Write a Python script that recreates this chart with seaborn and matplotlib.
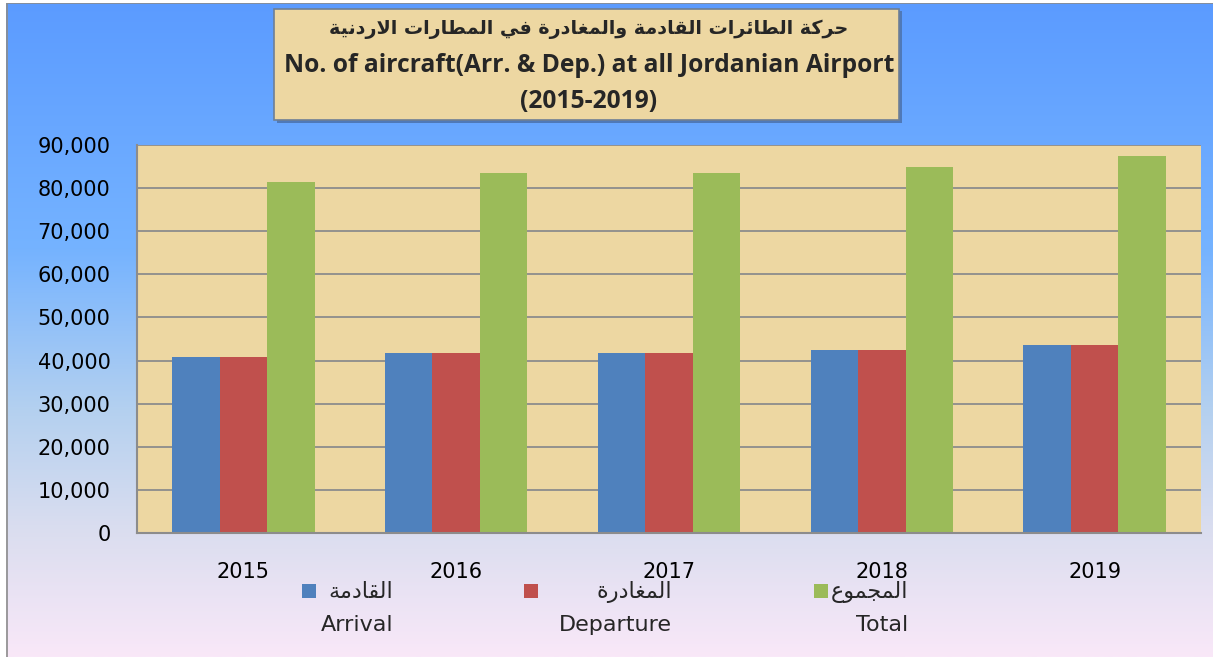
import numpy as np
import pandas as pd
import matplotlib
matplotlib.use('Agg')
import matplotlib.pyplot as plt
import seaborn as sns
from matplotlib.patches import Rectangle
from matplotlib.ticker import FuncFormatter
from matplotlib.colors import LinearSegmentedColormap

# 데이터
years = ['2015', '2016', '2017', '2018', '2019']
arrival = [40750, 41700, 41700, 42400, 43700]
departure = [40750, 41700, 41700, 42400, 43700]
total = [81500, 83400, 83400, 84800, 87400]
series_en = ['Arrival', 'Departure', 'Total']
series_ar = ['القادمة', 'المغادرة', 'المجموع']
title_ar = 'حركة الطائرات القادمة والمغادرة في المطارات الاردنية'
title_en = 'No. of aircraft(Arr. & Dep.) at all Jordanian Airport'
title_years = '(2015-2019)'
colors = ['#4F81BD', '#C0504D', '#9BBB59']
papyrus = '#EDD7A2'

# arabic shaping (matplotlib has no text shaping): iso, final, initial, medial
FORMS = {
    'ا': (0xFE8D, 0xFE8E), 'ة': (0xFE93, 0xFE94), 'د': (0xFEA9, 0xFEAA),
    'ر': (0xFEAD, 0xFEAE), 'و': (0xFEED, 0xFEEE),
    'ت': (0xFE95, 0xFE96, 0xFE97, 0xFE98), 'ئ': (0xFE89, 0xFE8A, 0xFE8B, 0xFE8C),
    'ج': (0xFE9D, 0xFE9E, 0xFE9F, 0xFEA0), 'ح': (0xFEA1, 0xFEA2, 0xFEA3, 0xFEA4),
    'ط': (0xFEC1, 0xFEC2, 0xFEC3, 0xFEC4), 'ع': (0xFEC9, 0xFECA, 0xFECB, 0xFECC),
    'غ': (0xFECD, 0xFECE, 0xFECF, 0xFED0), 'ف': (0xFED1, 0xFED2, 0xFED3, 0xFED4),
    'ق': (0xFED5, 0xFED6, 0xFED7, 0xFED8), 'ك': (0xFED9, 0xFEDA, 0xFEDB, 0xFEDC),
    'ل': (0xFEDD, 0xFEDE, 0xFEDF, 0xFEE0), 'م': (0xFEE1, 0xFEE2, 0xFEE3, 0xFEE4),
    'ن': (0xFEE5, 0xFEE6, 0xFEE7, 0xFEE8), 'ي': (0xFEF1, 0xFEF2, 0xFEF3, 0xFEF4),
}


def shape(text):
    out = []
    chars = list(text)
    i = 0
    while i < len(chars):
        c = chars[i]
        if c not in FORMS:
            out.append(c)
            i += 1
            continue
        prev = chars[i - 1] if i > 0 else ''
        joins_prev = prev in FORMS and len(FORMS[prev]) == 4
        if c == 'ل' and i + 1 < len(chars) and chars[i + 1] == 'ا':
            out.append(chr(0xFEFC if joins_prev else 0xFEFB))
            i += 2
            continue
        nxt = chars[i + 1] if i + 1 < len(chars) else ''
        f = FORMS[c]
        joins_next = len(f) == 4 and nxt in FORMS
        if joins_prev and joins_next:
            out.append(chr(f[3]))
        elif joins_next:
            out.append(chr(f[2]))
        elif joins_prev:
            out.append(chr(f[1]))
        else:
            out.append(chr(f[0]))
        i += 1
    return ''.join(out[::-1])


sns.set_theme(style='white')
plt.rcParams['font.family'] = ['DejaVu Sans']

df = pd.DataFrame({
    'year': years * 3,
    'series': [s for s in series_en for _ in years],
    'value': arrival + departure + total,
})

fig = plt.figure(figsize=(12.13, 6.57), dpi=100)

# 배경 그라데이션
bg = fig.add_axes([0, 0, 1, 1], zorder=-10)
cmap = LinearSegmentedColormap.from_list('bg', [
    (0.0, '#5B9BFF'), (0.38, '#75B3FF'), (0.62, '#B3D0F0'),
    (0.80, '#D9DDEF'), (1.0, '#F9E8F8')])
bg.imshow(np.linspace(0, 1, 256).reshape(-1, 1), aspect='auto', cmap=cmap,
          extent=[0, 1, 0, 1])
bg.set_xlim(0, 1)
bg.set_ylim(0, 1)
bg.axis('off')
bg.add_patch(Rectangle((7 / 1213, -0.01), 1.1, 1 - 3 / 657 + 0.01,
                       fill=False, edgecolor='#8C8C8C', lw=1.2))
# 흰 여백
bg.add_patch(Rectangle((0, 0), 6 / 1213, 1, color='white', lw=0))
bg.add_patch(Rectangle((0, 1 - 2.5 / 657), 1, 1, color='white', lw=0))

ax = fig.add_axes([137 / 1213, 1 - 533 / 657, (1201 - 137) / 1213, (533 - 145) / 657])
ax.set_facecolor(papyrus)
sns.barplot(data=df, x='year', y='value', hue='series', hue_order=series_en,
            palette=colors, width=0.67, saturation=1, edgecolor='none',
            legend=False, ax=ax)

ax.set_ylim(0, 90000)
ax.set_yticks(range(0, 90001, 10000))
ax.yaxis.set_major_formatter(FuncFormatter(lambda v, p: f'{v:,.0f}'))
ax.grid(axis='y', color='#8C8C8C', lw=1.3)
ax.set_axisbelow(True)
ax.set_xlabel('')
ax.set_ylabel('')
for s in ['top', 'right']:
    ax.spines[s].set_visible(False)
for s in ['left', 'bottom']:
    ax.spines[s].set_color('#8C8C8C')
    ax.spines[s].set_linewidth(1.5)
ax.tick_params(axis='y', length=0, pad=19, labelsize=15, labelcolor='black')
ax.tick_params(axis='x', length=0, pad=21, labelsize=15, labelcolor='black')

# 제목 상자
fig.patches.append(Rectangle((277 / 1213, 1 - 123 / 657), 625 / 1213, 112 / 657,
                             transform=fig.transFigure, facecolor='#4F79B8',
                             edgecolor='none', zorder=1))
fig.patches.append(Rectangle((274 / 1213, 1 - 120 / 657), 625 / 1213, 111 / 657,
                             transform=fig.transFigure, facecolor=papyrus,
                             edgecolor='#6E7F95', lw=1.2, zorder=2))
cx = 589 / 1213
fig.text(cx, 1 - 29 / 657, shape(title_ar), ha='center', va='center',
         fontsize=13.8, fontweight='bold', family=['DejaVu Sans'], zorder=3)
fig.text(cx, 1 - 66 / 657, title_en, ha='center', va='center',
         fontsize=17.7, fontweight='bold', family=['Open Sans', 'DejaVu Sans'], zorder=3)
fig.text(cx, 1 - 101 / 657, title_years, ha='center', va='center',
         fontsize=17.7, fontweight='bold', family=['Open Sans', 'DejaVu Sans'], zorder=3)

# 범례
sq_x = [302, 524, 814]
txt_right = [393, 672, 908]
for c, xs, xr, ar, en in zip(colors, sq_x, txt_right, series_ar, series_en):
    fig.patches.append(Rectangle((xs / 1213, 1 - 598 / 657), 14 / 1213, 14 / 657,
                                 transform=fig.transFigure, facecolor=c,
                                 edgecolor='none'))
    fig.text(xr / 1213, 1 - 592 / 657, shape(ar), ha='right', va='center',
             fontsize=16)
    fig.text(xr / 1213, 1 - 625 / 657, en, ha='right', va='center',
             fontsize=16)

fig.savefig('out.png', dpi=100)
